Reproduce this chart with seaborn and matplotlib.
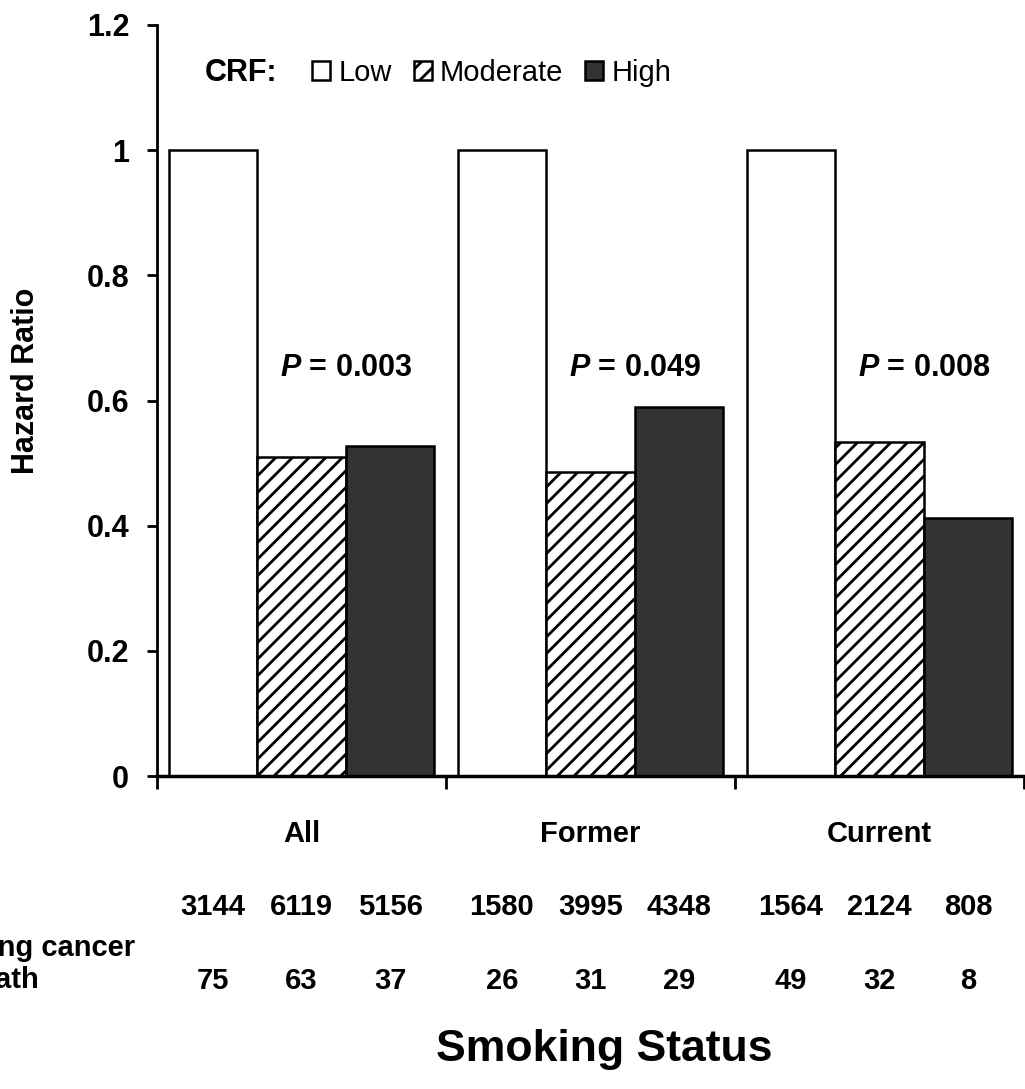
import matplotlib
matplotlib.use("Agg")
import matplotlib.pyplot as plt
import matplotlib.transforms as mtransforms
import pandas as pd
import seaborn as sns

# values
status = ['All', 'Former', 'Current']
crf_levels = ['Low', 'Moderate', 'High']
hr_low = [1.0, 1.0, 1.0]
hr_moderate = [0.51, 0.485, 0.533]
hr_high = [0.528, 0.59, 0.413]
n_subjects = [[3144, 6119, 5156], [1580, 3995, 4348], [1564, 2124, 808]]
n_deaths = [[75, 63, 37], [26, 31, 29], [49, 32, 8]]
p_values = ['0.003', '0.049', '0.008']
yticks = [0, 0.2, 0.4, 0.6, 0.8, 1.0, 1.2]

df = pd.DataFrame({
    'Status': status * 3,
    'CRF': [lvl for lvl in crf_levels for _ in status],
    'HR': hr_low + hr_moderate + hr_high,
})

sns.set_style('ticks')
plt.rcParams['font.family'] = ['Liberation Sans', 'DejaVu Sans']
plt.rcParams['mathtext.fontset'] = 'custom'
plt.rcParams['mathtext.bfit'] = 'Liberation Sans:italic:bold'
plt.rcParams['hatch.linewidth'] = 2.0
for key in ['text.color', 'axes.labelcolor', 'xtick.color', 'ytick.color', 'axes.edgecolor']:
    plt.rcParams[key] = 'black'

W, H = 1025, 1089
fig = plt.figure(figsize=(W / 100, H / 100), dpi=100)
ax = fig.add_axes([157 / W, 1 - 776 / H, 867 / W, 751 / H])

sns.barplot(data=df, x='Status', y='HR', hue='CRF', order=status, hue_order=crf_levels,
            palette={'Low': 'white', 'Moderate': 'white', 'High': '#333333'},
            edgecolor='black', linewidth=1.8, width=0.92, gap=0, saturation=1,
            legend=False, ax=ax)

for bar in ax.containers[1]:
    bar.set_hatch('//')

# axes styling
sns.despine(ax=ax)
ax.spines['left'].set_linewidth(2)
ax.spines['bottom'].set_linewidth(2.5)
ax.set_xlim(-0.5, 2.5)
ax.set_ylim(0, 1.2)
ax.set_yticks(yticks)
ax.set_yticklabels([f'{v:g}' for v in yticks], fontsize=22, fontweight='bold')
ax.tick_params(axis='y', length=7, width=2, pad=13)
ax.set_xticks([-0.5, 0.5, 1.5, 2.5])
ax.set_xticklabels([])
ax.tick_params(axis='x', length=9, width=2)
ax.set_xlabel('')
ax.set_ylabel('')

fig.text(26 / W, 1 - 381 / H, 'Hazard Ratio', rotation=90, ha='center', va='center',
         fontsize=22, fontweight='bold')

# legend
fig.text(205 / W, 1 - 73 / H, 'CRF:', ha='left', va='center', fontsize=22, fontweight='bold')
ax.legend(ax.containers, crf_levels, loc='center left',
          bbox_to_anchor=(312 / W, 1 - 73 / H), bbox_transform=fig.transFigure,
          ncol=3, frameon=False, fontsize=21, handlelength=0.62, handleheight=0.62,
          handletextpad=0.28, columnspacing=0.75, borderpad=0, borderaxespad=0)

# p-values
for i, p in enumerate(p_values):
    hb = ax.containers[2][i]
    ax.text(hb.get_x(), 0.652, r'$\mathbfit{P}$ = ' + p, ha='center', va='center',
            fontsize=22, fontweight='bold')

# table below the axis
trans = mtransforms.blended_transform_factory(ax.transData, fig.transFigure)
for i, s in enumerate(status):
    ax.text(i, 1 - 834 / H, s, transform=trans, ha='center', va='center',
            fontsize=21, fontweight='bold', clip_on=False)
    for j in range(3):
        b = ax.containers[j][i]
        xc = b.get_x() + b.get_width() / 2
        ax.text(xc, 1 - 907 / H, str(n_subjects[i][j]), transform=trans, ha='center',
                va='center', fontsize=21, fontweight='bold', clip_on=False)
        ax.text(xc, 1 - 981 / H, str(n_deaths[i][j]), transform=trans, ha='center',
                va='center', fontsize=21, fontweight='bold', clip_on=False)

# row label is cut at the left edge in the original figure as well
fig.text(-38 / W, 1 - 964 / H, 'Lung cancer\ndeath', ha='left', va='center',
         fontsize=21, fontweight='bold', linespacing=1.15)

fig.text(604 / W, 1 - 1050 / H, 'Smoking Status', ha='center', va='center',
         fontsize=32, fontweight='bold')

fig.savefig('out.png', dpi=100)
